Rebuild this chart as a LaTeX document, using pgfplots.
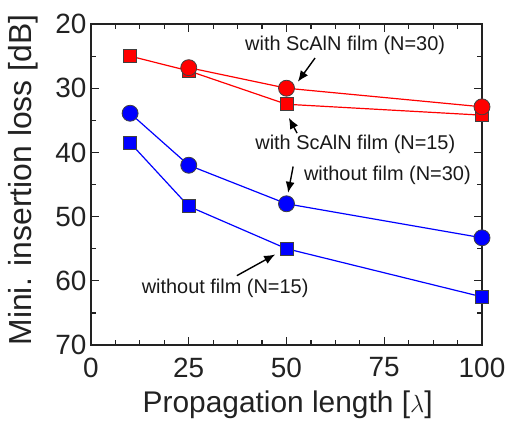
\documentclass[border=0pt]{standalone}
\usepackage{pgfplots}
\pgfplotsset{compat=1.18}
\usepackage{fontspec}
\setmainfont{Liberation Sans}
\usetikzlibrary{arrows.meta}

\definecolor{axisgray}{HTML}{222222}

\begin{document}
\begin{tikzpicture}
\path[use as bounding box] (-91bp,-79bp) rectangle (414bp,345bp);
\begin{axis}[
    at={(0,0)}, anchor=south west,
    scale only axis, width=391bp, height=321bp,
    xmin=0, xmax=100, ymin=20, ymax=70, y dir=reverse,
    xtick={0,25,50,75,100}, ytick={20,30,40,50,60,70},
    minor x tick num=3, minor y tick num=1,
    xtick pos=both, ytick pos=both, tick align=inside,
    major tick length=8bp, minor tick length=5bp,
    axis line style={axisgray, line width=1.5bp},
    every tick/.style={axisgray, line width=1.2bp},
    /pgf/number format/assume math mode=true,
    tick label style={font=\fontsize{28}{28}\selectfont, text=axisgray},
    xticklabel style={yshift=-9bp},
    yticklabel style={xshift=-1bp},
    xlabel={Propagation length [$\lambda$]},
    ylabel={Mini. insertion loss [dB]},
    xlabel style={font=\fontsize{30}{30}\selectfont, text=axisgray,
        at={(axis description cs:0.503,-0.187)}, anchor=center},
    ylabel style={font=\fontsize{32}{32}\selectfont, text=axisgray,
        at={(axis description cs:-0.173,0.514)}, anchor=center},
    clip=false,
]
% with ScAlN film (N=15)
\addplot[red, line width=1.2bp, mark=square*, mark size=6.5bp,
    mark options={fill=red, draw=black!75, line width=0.8bp}]
    coordinates {(10,25.0)(25,27.3)(50,32.5)(100,34.2)};
% with ScAlN film (N=30)
\addplot[red, line width=1.2bp, mark=*, mark size=8bp,
    mark options={fill=red, draw=black!75, line width=0.8bp}]
    coordinates {(25,26.8)(50,30.0)(100,32.9)};
% without film (N=30)
\addplot[blue, line width=1.2bp, mark=*, mark size=8bp,
    mark options={fill=blue, draw=black!75, line width=0.8bp}]
    coordinates {(10,33.9)(25,42.0)(50,48.0)(100,53.3)};
% without film (N=15)
\addplot[blue, line width=1.2bp, mark=square*, mark size=6.5bp,
    mark options={fill=blue, draw=black!75, line width=0.8bp}]
    coordinates {(10,38.5)(25,48.4)(50,55.0)(100,62.5)};

% annotations
\tikzset{ann/.style={font=\fontsize{20}{20}\selectfont, text=black!90},
         arr/.style={-{Latex[length=11bp,width=9bp]}, line width=1.4bp, black}}
\node[ann] at (axis cs:65.0,23.3) {with ScAlN film (N=30)};
\draw[arr] (axis cs:57.3,25.3) -- (axis cs:52.9,29.0);
\node[ann] at (axis cs:67.6,38.8) {with ScAlN film (N=15)};
\draw[arr] (axis cs:52.7,37.0) -- (axis cs:50.6,34.6);
\node[ann] at (axis cs:75.8,43.5) {without film (N=30)};
\draw[arr] (axis cs:51.7,42.2) -- (axis cs:50.4,46.3);
\node[ann] at (axis cs:34.3,61.2) {without film (N=15)};
\draw[arr] (axis cs:37.3,59.2) -- (axis cs:47.1,55.9);
\end{axis}
\end{tikzpicture}
\end{document}
